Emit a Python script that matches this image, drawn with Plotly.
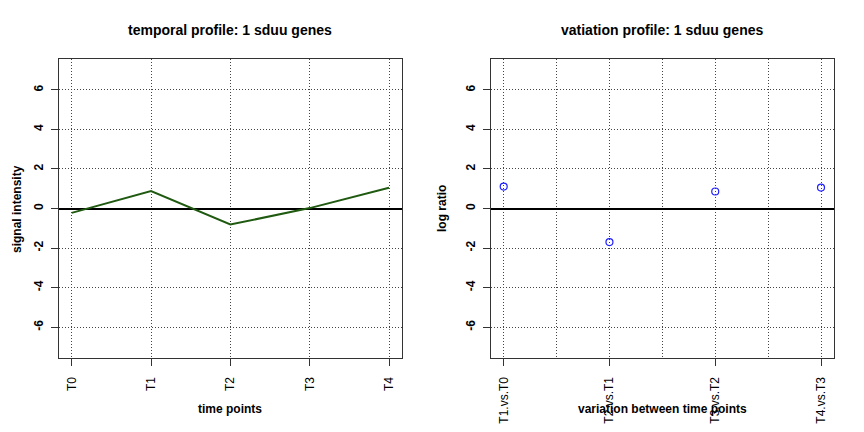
import plotly.graph_objects as go

time_points = ["T0", "T1", "T2", "T3", "T4"]
signal = [-0.22, 0.88, -0.81, 0.02, 1.05]
comparisons = ["T1.vs.T0", "T2.vs.T1", "T3.vs.T2", "T4.vs.T3"]
log_ratio = [1.11, -1.70, 0.86, 1.06]
y_ticks = [-6, -4, -2, 0, 2, 4, 6]

# page body has an 8px margin; design in reference-pixel coords and shift
OFF = 8
W, H = 864 - OFF, 432 - OFF
FONT = "Liberation Sans, Arial, Helvetica, sans-serif"
DOT = "1px,2px"

def px(x):
    return (x - OFF) / W

def py(y):
    return 1 - (y - OFF) / H

fig = go.Figure()
fig.add_trace(go.Scatter(
    x=list(range(len(time_points))), y=signal, mode="lines",
    line=dict(color="#1f5a10", width=2), xaxis="x", yaxis="y", showlegend=False))
fig.add_trace(go.Scatter(
    x=list(range(1, len(comparisons) + 1)), y=log_ratio, mode="markers",
    marker=dict(symbol="circle-open", color="#2020ff", size=7, line=dict(width=1.2)),
    xaxis="x2", yaxis="y2", showlegend=False))

ydom = [py(358), py(59)]
common_y = dict(
    range=[-7.56, 7.56], tickvals=y_ticks, ticktext=[f"<b>{v}</b>" for v in y_ticks],
    tickangle=-90, ticks="outside", ticklen=7, tickcolor="#333", tickwidth=1,
    showline=True, linecolor="#333", linewidth=1.3, mirror=True,
    showgrid=True, gridcolor="#444", griddash=DOT, gridwidth=1,
    zeroline=True, zerolinecolor="black", zerolinewidth=2,
    tickfont=dict(family=FONT, size=12, color="black"), domain=ydom,
    ticklabelstandoff=3)
common_x = dict(
    tickangle=-90, ticks="outside", ticklen=7, tickcolor="#333", tickwidth=1,
    showline=True, linecolor="#333", linewidth=1.3, mirror=True,
    showgrid=True, gridcolor="#444", griddash=DOT, gridwidth=1,
    zeroline=False, tickfont=dict(family=FONT, size=12, color="black"),
    ticklabelstandoff=6)

fig.update_layout(
    width=W, height=H, margin=dict(l=0, r=0, t=0, b=0),
    paper_bgcolor="white", plot_bgcolor="white",
    font=dict(family=FONT, size=12, color="black"),
    xaxis=dict(common_x, range=[-0.16, 4.16], tickvals=list(range(len(time_points))),
               ticktext=time_points, domain=[px(59), px(401.7)], anchor="y"),
    yaxis=dict(common_y, anchor="x"),
    xaxis2=dict(common_x, range=[0.88, 4.12], tickvals=list(range(1, len(comparisons) + 1)),
                ticktext=comparisons, domain=[px(491), px(833.7)], anchor="y2",
                minor=dict(dtick=0.5, tick0=0.5, showgrid=True, gridcolor="#444",
                           griddash=DOT, gridwidth=1)),
    yaxis2=dict(common_y, anchor="x2"),
)

def ann(text, x, y, size=12, angle=0, xanchor="center"):
    fig.add_annotation(text=f"<b>{text}</b>", x=px(x), y=py(y), xref="paper", yref="paper",
                       showarrow=False, textangle=angle, font=dict(family=FONT, size=size, color="black"),
                       xanchor=xanchor, yanchor="middle")

ann("temporal profile: 1 sduu genes", 230, 30, size=14)
ann("vatiation profile: 1 sduu genes", 662, 30, size=14)
ann("time points", 230, 409)
ann("variation between time points", 662, 409)
ann("signal intensity", 8, 209, angle=-90, xanchor="left")
ann("log ratio", 442, 209, angle=-90)

fig.write_html("out.html")
